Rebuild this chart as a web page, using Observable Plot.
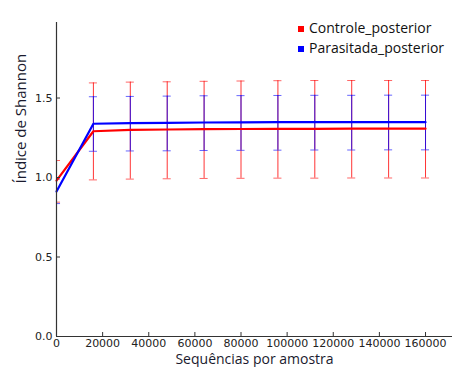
<!DOCTYPE html>
<html><head><meta charset="utf-8">
<script src="https://cdn.jsdelivr.net/npm/d3@7"></script>
<script src="https://cdn.jsdelivr.net/npm/@observablehq/plot@0.6"></script>
<style>
body{margin:0;background:#fff;}
#wrap{position:relative;width:452px;height:367px;}
#legend{position:absolute;left:298px;top:18px;font-family:"Open Sans",sans-serif;font-size:14px;color:#111;line-height:20px;}
#legend span.sw{display:inline-block;width:6px;height:6px;margin-right:5px;vertical-align:1px;}
</style>
</head><body>
<div id="wrap"><div id="legend"></div></div>
<script>
const depths = [0, 16000, 32000, 48000, 64000, 80000, 96000, 112000, 128000, 144000, 160000];
const controleMean = [0.98, 1.291, 1.300, 1.302, 1.304, 1.305, 1.306, 1.306, 1.307, 1.307, 1.307];
const controleLo   = [0.845, 0.985, 0.990, 0.992, 0.994, 0.995, 0.996, 0.996, 0.997, 0.997, 0.997];
const controleHi   = [1.107, 1.595, 1.600, 1.602, 1.605, 1.607, 1.609, 1.610, 1.610, 1.610, 1.610];
const parasitadaMean = [0.912, 1.338, 1.342, 1.344, 1.346, 1.347, 1.348, 1.348, 1.349, 1.349, 1.348];
const parasitadaLo   = [0.836, 1.165, 1.167, 1.168, 1.170, 1.171, 1.172, 1.173, 1.173, 1.174, 1.174];
const parasitadaHi   = [0.99, 1.508, 1.510, 1.512, 1.514, 1.515, 1.516, 1.517, 1.517, 1.518, 1.518];
const seriesNames = ["Controle_posterior", "Parasitada_posterior"];
const seriesColors = ["#ff0000", "#0000ff"];
const xTicks = [0, 20000, 40000, 60000, 80000, 100000, 120000, 140000, 160000];
const yTicks = [0, 0.5, 1.0, 1.5];

const rows = [];
depths.forEach((d, i) => {
  rows.push({s: seriesNames[0], x: d, y: controleMean[i], lo: controleLo[i], hi: controleHi[i]});
  rows.push({s: seriesNames[1], x: d, y: parasitadaMean[i], lo: parasitadaLo[i], hi: parasitadaHi[i]});
});
const capHalf = 1750;
const color = {domain: seriesNames, range: seriesColors};

const chart = Plot.plot({
  width: 452, height: 367,
  marginLeft: 56, marginRight: 0, marginTop: 22, marginBottom: 31,
  style: {fontFamily: "DejaVu Sans, sans-serif", fontSize: "11px", color: "#222", background: "#fff"},
  x: {domain: [0, 171700], ticks: xTicks, tickFormat: d => String(d)},
  y: {domain: [0, 1.975], ticks: yTicks, tickFormat: d => d.toFixed(1)},
  color,
  marks: [
    Plot.ruleX(rows, {x: "x", y1: "lo", y2: "hi", stroke: "s", strokeWidth: 1, strokeOpacity: 0.8, clip: true}),
    Plot.ruleY(rows, {y: "lo", x1: d => d.x - capHalf, x2: d => d.x + capHalf, stroke: "s", strokeWidth: 1, strokeOpacity: 0.6, clip: true}),
    Plot.ruleY(rows, {y: "hi", x1: d => d.x - capHalf, x2: d => d.x + capHalf, stroke: "s", strokeWidth: 1, strokeOpacity: 0.6, clip: true}),
    Plot.lineY(rows.filter(r => r.s === seriesNames[0]), {x: "x", y: "y", stroke: "s", strokeWidth: 2.2}),
    Plot.lineY(rows.filter(r => r.s === seriesNames[1]), {x: "x", y: "y", stroke: "s", strokeWidth: 2.2}),
    Plot.axisX({ticks: xTicks, tickFormat: d => String(d), tickSize: -4, tickPadding: 7, label: null, stroke: "#333", fontSize: 11}),
    Plot.axisY({ticks: yTicks, tickFormat: d => d.toFixed(1), tickSize: -4, tickPadding: 8, label: null, stroke: "#333", fontSize: 11}),
    Plot.ruleX([0], {stroke: "#333", strokeWidth: 1.2}),
    Plot.ruleY([0], {stroke: "#333", strokeWidth: 1.2}),
    Plot.text(["Sequências por amostra"], {frameAnchor: "bottom", dy: 18, lineAnchor: "top", fontSize: 14, fontFamily: "Open Sans, sans-serif", fill: "#1a1a2e"}),
    Plot.text(["Índice de Shannon"], {frameAnchor: "left", dx: -35, dy: 4, rotate: -90, fontSize: 15, fontFamily: "Open Sans, sans-serif", fill: "#1a1a2e"})
  ]
});
document.getElementById("wrap").prepend(chart);

const legend = document.getElementById("legend");
seriesNames.forEach((n, i) => {
  const div = document.createElement("div");
  const sw = document.createElement("span");
  sw.className = "sw"; sw.style.background = seriesColors[i];
  div.appendChild(sw);
  div.appendChild(document.createTextNode(n));
  legend.appendChild(div);
});
</script>
</body></html>
